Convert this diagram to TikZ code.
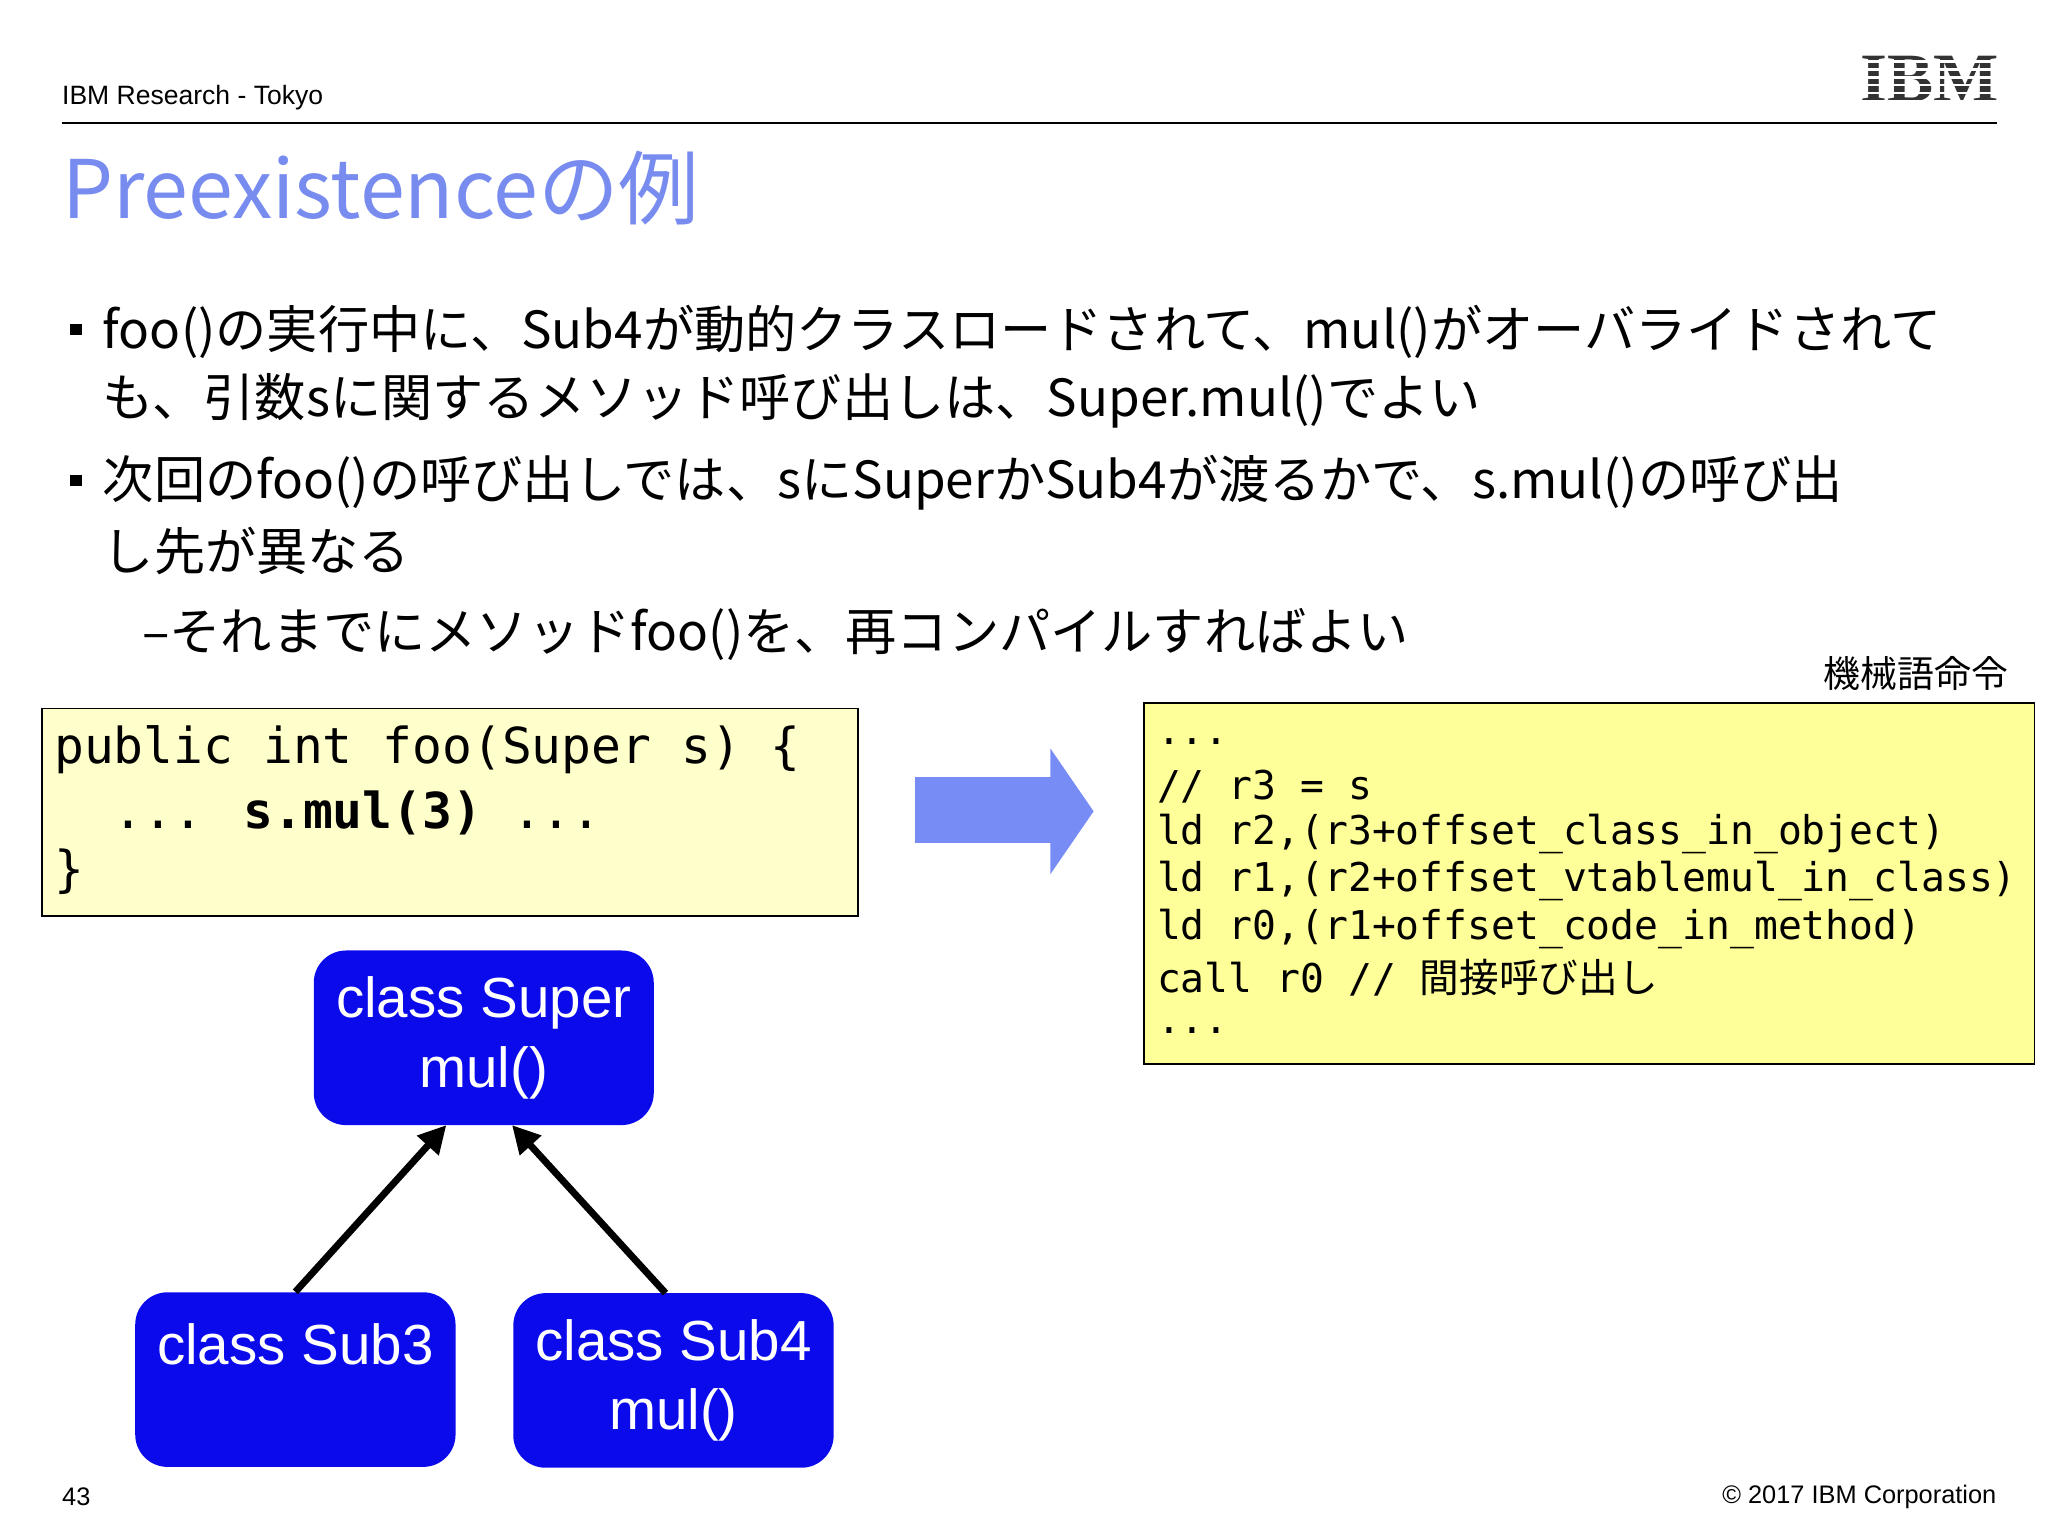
\documentclass[tikz,border=0pt]{standalone}
\usepackage{fontspec}
\setmainfont{Liberation Sans}
\newfontfamily\cjk{Noto Sans CJK JP}
\newfontfamily\mono{DejaVu Sans Mono}
\usetikzlibrary{arrows.meta}
\definecolor{ttl}{RGB}{120,140,240}
\definecolor{ylw}{RGB}{255,255,204}
\definecolor{ylw2}{RGB}{255,255,153}
\definecolor{bx}{RGB}{10,10,235}
\definecolor{arr}{RGB}{120,140,245}
\begin{document}
\begin{tikzpicture}[x=0.02cm,y=-0.02cm,
  txt/.style={anchor=west,inner sep=0},
  body/.style={txt,font=\cjk\fontsize{22.2}{27}\selectfont},
  bul/.style={fill=black,inner sep=0,minimum size=9*0.02cm},
  cls/.style={draw=none,fill=bx,rounded corners=14pt,text=white,align=center,font=\fontsize{24.5}{30}\selectfont},
  inh/.style={line width=3pt,-{Triangle[length=12pt,width=12pt]}}]
\useasboundingbox (0,0) rectangle (1560,1170);
\node[txt,font=\fontsize{11.5}{14}\selectfont] (hdr) at (47,74) {IBM Research - Tokyo};
\draw[line width=0.8pt] (47,94) -- (1521,94);
\node[anchor=center,inner sep=0,font=\fontspec{Liberation Serif}\bfseries\fontsize{30}{30}\selectfont,text=black!80] (logo) at (1470,60) {IBM};
\foreach \yy in {46,52,58,64,70,76} \fill[white] (1415,\yy) rectangle (1525,\yy+1.8);
\node[txt,font=\cjk\fontsize{35}{40}\selectfont,text=ttl] (title) at (47,143) {Preexistenceの例};
\node[bul] (b1) at (58,251) {};
\node[body] (l1) at (78,253) {foo()の実行中に、Sub4が動的クラスロードされて、mul()がオーバライドされて};
\node[body] (l2) at (78,305) {も、引数sに関するメソッド呼び出しは、Super.mul()でよい};
\node[bul] (b2) at (58,366) {};
\node[body] (l3) at (78,368) {次回のfoo()の呼び出しでは、sにSuperかSub4が渡るかで、s.mul()の呼び出};
\node[body] (l4) at (78,420) {し先が異なる};
\node[body] (l5) at (108,483) {–それまでにメソッドfoo()を、再コンパイルすればよい};
\node[anchor=east,inner sep=0,font=\cjk\fontsize{16}{20}\selectfont] (mc) at (1530,513) {機械語命令};
\node[draw,line width=0.8pt,fill=ylw,minimum width=622*0.02cm,minimum height=158*0.02cm,anchor=north west] (src) at (31,539) {};
\node[txt,font=\mono\fontsize{21.5}{26}\selectfont] (s1) at (41,571) {public int foo(Super s) \{};
\node[txt,font=\mono\fontsize{21.5}{26}\selectfont] (s2) at (41,619) {\ \ ... \textbf{s.mul(3)} ...};
\node[txt,font=\mono\fontsize{21.5}{26}\selectfont] (s3) at (41,664) {\}};
\fill[arr] (697,592) -- (800,592) -- (800,570) -- (833,618) -- (800,666) -- (800,642) -- (697,642) -- cycle;
\node[draw,line width=0.8pt,fill=ylw2,minimum width=678*0.02cm,minimum height=275*0.02cm,anchor=north west] (asm) at (871,535) {};
\foreach \t/\yy in {{...}/565,{// r3 = s}/599,{ld r2,(r3+offset\_class\_in\_object)}/635,{ld r1,(r2+offset\_vtablemul\_in\_class)}/671,{ld r0,(r1+offset\_code\_in\_method)}/708,{call r0 // {\cjk 間接呼び出し}}/745,{...}/785}
  \node[txt,font=\mono\fontsize{17.2}{20}\selectfont] at (881,\yy) {\t};
\node[cls,minimum width=259*0.02cm,minimum height=133*0.02cm] (sup) at (368.5,790.5) {class Super\\mul()};
\node[cls,minimum width=244*0.02cm,minimum height=133*0.02cm,anchor=north] (s3b) at (225,984) {};
\node[cls] at (225,1024) {class Sub3};
\node[cls,minimum width=244*0.02cm,minimum height=133*0.02cm] (s4) at (513,1051.5) {class Sub4\\mul()};
\draw[inh] (s3b.north) -- (340,857);
\draw[inh] (507,985) -- (390,857);
\node[txt,font=\fontsize{11}{13}\selectfont] (pg) at (47,1140) {43};
\node[anchor=east,inner sep=0,font=\fontsize{11}{13}\selectfont] (cp) at (1521,1140) {© 2017 IBM Corporation};
\end{tikzpicture}
\end{document}
